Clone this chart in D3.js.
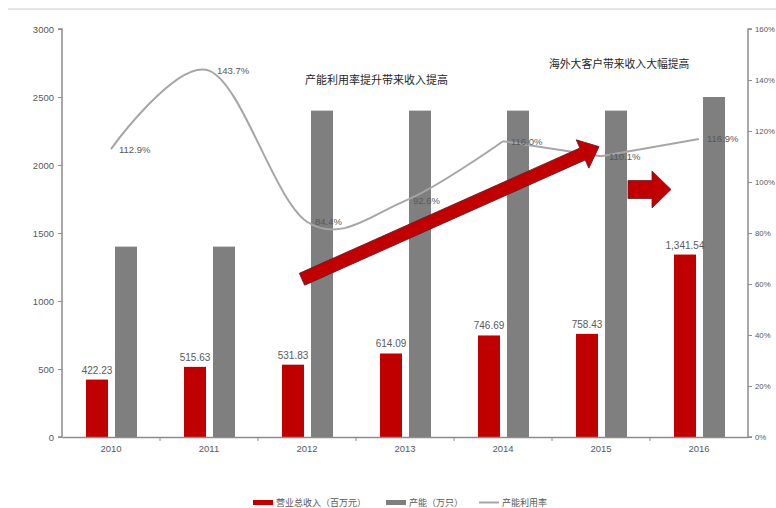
<!DOCTYPE html>
<html>
<head>
<meta charset="utf-8">
<script src="https://cdn.jsdelivr.net/npm/d3@7"></script>
<style>
  html, body { margin: 0; padding: 0; background: #fff; }
  svg { display: block; font-family: "Liberation Sans", Arial, sans-serif; }
</style>
</head>
<body>
<svg id="chart" width="776" height="508"></svg>
<script>
// ---- data ----
const years = ["2010", "2011", "2012", "2013", "2014", "2015", "2016"];
const revenue = [422.23, 515.63, 531.83, 614.09, 746.69, 758.43, 1341.54];
const revenueLabels = ["422.23", "515.63", "531.83", "614.09", "746.69", "758.43", "1,341.54"];
const capacity = [1400, 1400, 2400, 2400, 2400, 2400, 2500];
const utilization = [112.9, 143.7, 84.4, 92.6, 116.0, 110.1, 116.9];
const leftTicks = [0, 500, 1000, 1500, 2000, 2500, 3000];
const rightTicks = [0, 20, 40, 60, 80, 100, 120, 140, 160];
const legendNames = ["营业总收入（百万元）", "产能（万只）", "产能利用率"];
const notes = ["产能利用率提升带来收入提高", "海外大客户带来收入大幅提高"];

// ---- layout ----
const svg = d3.select("#chart");
const L = 62, R = 748, T = 29, B = 437;
const x = d3.scaleBand().domain(years).range([L, R]).paddingInner(0).paddingOuter(0);
const yL = d3.scaleLinear().domain([0, 3000]).range([B, T]);
const yR = d3.scaleLinear().domain([0, 160]).range([B, T]);
const cx = d => x(d) + x.bandwidth() / 2;
const barW = 22;
const red = "#c00000", gray = "#7f7f7f", lineCol = "#a6a6a6", txt = "#595959", axisCol = "#8c8c8c";

// top rule
svg.append("line").attr("x1", 8).attr("x2", 776).attr("y1", 9).attr("y2", 9)
  .attr("stroke", "#dcdcdc").attr("stroke-width", 1.5);

// bars
svg.append("g").selectAll("rect").data(years).join("rect")
  .attr("x", (d) => cx(d) - 25).attr("width", barW)
  .attr("y", (d, i) => yL(revenue[i])).attr("height", (d, i) => yL(0) - yL(revenue[i]))
  .attr("fill", red);
svg.append("g").selectAll("rect").data(years).join("rect")
  .attr("x", (d) => cx(d) + 4).attr("width", barW)
  .attr("y", (d, i) => yL(capacity[i])).attr("height", (d, i) => yL(0) - yL(capacity[i]))
  .attr("fill", gray);

// revenue labels
svg.append("g").selectAll("text").data(years).join("text")
  .attr("x", d => cx(d) - 25 + barW / 2).attr("y", (d, i) => yL(revenue[i]) - 6)
  .attr("text-anchor", "middle").attr("font-size", 10).attr("fill", txt)
  .text((d, i) => revenueLabels[i]);

// axes
const axL = svg.append("g").attr("transform", `translate(${L},0)`)
  .call(d3.axisLeft(yL).tickValues(leftTicks).tickSize(4).tickPadding(4).tickFormat(d3.format("d")));
const axR = svg.append("g").attr("transform", `translate(${R},0)`)
  .call(d3.axisRight(yR).tickValues(rightTicks).tickSize(4).tickPadding(3).tickFormat(d => d + "%"));
const axB = svg.append("g").attr("transform", `translate(0,${B})`)
  .call(d3.axisBottom(x).tickSize(0).tickPadding(8));
// bottom boundary ticks
axB.selectAll(".bt").data(years.slice(1)).join("line").attr("class", "bt")
  .attr("x1", d => x(d)).attr("x2", d => x(d)).attr("y1", 0).attr("y2", 4)
  .attr("stroke", axisCol);
[axL, axR, axB].forEach(a => {
  a.select(".domain").attr("stroke", axisCol).attr("stroke-width", 1.5);
  a.selectAll(".tick line").attr("stroke", axisCol);
  a.selectAll("text").attr("fill", txt).attr("font-size", 9.5)
    .attr("font-family", "'Liberation Sans', Arial, sans-serif");
});
axR.selectAll("text").attr("font-size", 7.8);
axL.select(".domain").attr("d", `M-4,${T}H0V${B}H-4`);
axR.select(".domain").attr("d", `M4,${T}H0V${B}H4`);

// utilization line: smooth through 2014, straight afterwards
const pts = years.map((d, i) => [cx(d), yR(utilization[i])]);
svg.append("path").datum(pts.slice(0, 5))
  .attr("d", d3.line().curve(d3.curveCardinal.tension(0)))
  .attr("fill", "none").attr("stroke", lineCol).attr("stroke-width", 2);
svg.append("path").datum(pts.slice(4))
  .attr("d", d3.line())
  .attr("fill", "none").attr("stroke", lineCol).attr("stroke-width", 2);

// arrows (annotation shapes anchored to the scales)
function arrow(x0, y0, x1, y1, shaftW, headW, headL) {
  const dx = x1 - x0, dy = y1 - y0, len = Math.hypot(dx, dy);
  const ang = Math.atan2(dy, dx) * 180 / Math.PI;
  const p = [[0, -shaftW / 2], [len - headL, -shaftW / 2], [len - headL, -headW / 2], [len, 0],
             [len - headL, headW / 2], [len - headL, shaftW / 2], [0, shaftW / 2]];
  svg.append("polygon").attr("points", p.map(q => q.join(",")).join(" "))
    .attr("transform", `translate(${x0},${y0}) rotate(${ang})`)
    .attr("fill", red).attr("stroke", "#6b1a2a").attr("stroke-width", 0.8);
}
arrow(cx("2012") - 5, yL(1160), cx("2015") - 2, yL(2135), 13, 31, 18);
arrow(cx("2015") + 27, yL(1820), cx("2016") - 28, yL(1820), 18, 37, 19);

// utilization labels
svg.append("g").selectAll("text").data(years).join("text")
  .attr("x", d => cx(d) + 8).attr("y", (d, i) => yR(utilization[i]) + 3.5)
  .attr("font-size", 9.5).attr("fill", txt)
  .text((d, i) => utilization[i].toFixed(1) + "%");

// annotation notes
svg.append("text").attr("x", cx("2012") - 2).attr("y", 84)
  .attr("font-family", "'Noto Sans CJK SC', sans-serif").attr("font-size", 11)
  .attr("fill", "#262626").text(notes[0]);
svg.append("text").attr("x", cx("2015") - 52).attr("y", 68)
  .attr("font-family", "'Noto Sans CJK SC', sans-serif").attr("font-size", 10.8)
  .attr("fill", "#262626").text(notes[1]);

// legend
const lg = svg.append("g").attr("font-family", "'Noto Sans CJK SC', sans-serif")
  .attr("font-size", 9).attr("fill", txt);
const lx = [253, 386, 479];
lg.append("rect").attr("x", lx[0]).attr("y", 500).attr("width", 20).attr("height", 5).attr("fill", red);
lg.append("rect").attr("x", lx[1]).attr("y", 500).attr("width", 20).attr("height", 5).attr("fill", gray);
lg.append("line").attr("x1", lx[2]).attr("x2", lx[2] + 20).attr("y1", 502.5).attr("y2", 502.5)
  .attr("stroke", lineCol).attr("stroke-width", 2);
legendNames.forEach((n, i) => {
  lg.append("text").attr("x", lx[i] + 23).attr("y", 506).text(n);
});
</script>
</body>
</html>
